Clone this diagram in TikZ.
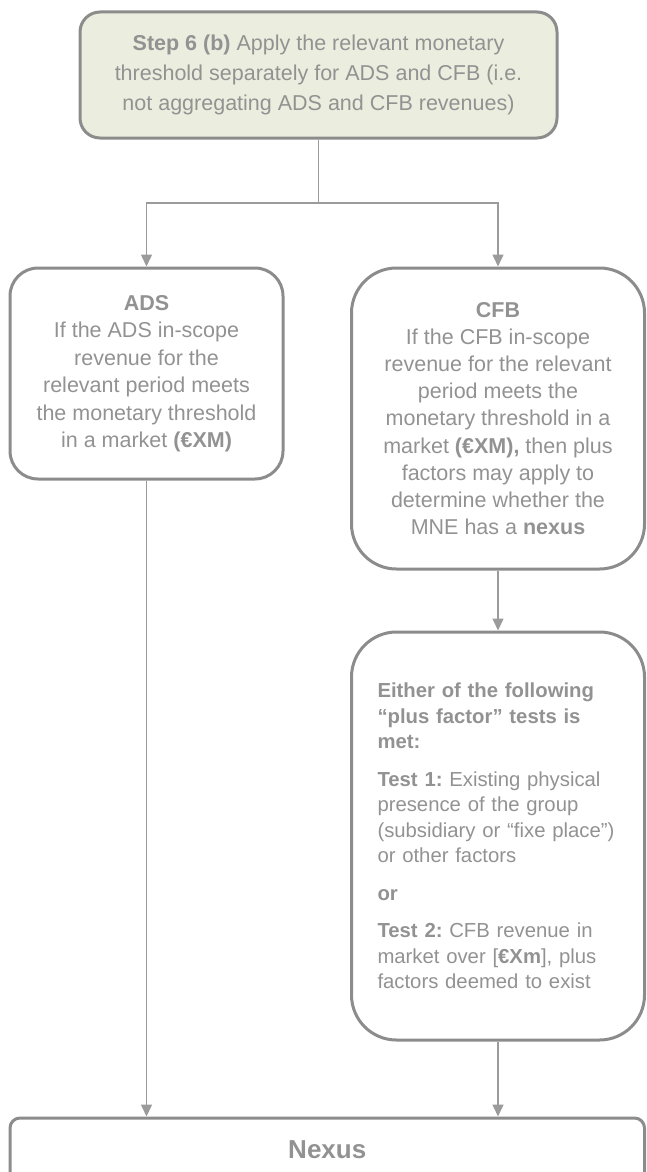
\documentclass[tikz,border=0pt]{standalone}
\usepackage{fontspec}
\setmainfont{Liberation Sans}
\usetikzlibrary{arrows.meta}
\definecolor{txtgray}{RGB}{146,146,146}
\definecolor{linegray}{RGB}{140,140,140}
\definecolor{conngray}{RGB}{155,155,155}
\definecolor{stepfill}{RGB}{235,238,222}
\frenchspacing
\begin{document}
\begin{tikzpicture}[x=1pt,y=-1pt,
  box/.style={draw=linegray, line width=3pt, text=txtgray, inner sep=0pt, align=center},
  conn/.style={draw=conngray, line width=1.5pt},
  arr/.style={conn, -{Triangle[length=12pt,width=11pt]}},
  bigtxt/.style={font=\fontsize{21.5}{#1}\selectfont}]
\useasboundingbox (0,0) rectangle (646,1172);
\clip (0,0) rectangle (646,1172);

\node[box, fill=stepfill, rounded corners=20pt, minimum width=477pt, minimum height=126pt, bigtxt=30] (step) at (318.5,75)
  {\textbf{Step 6 (b)} Apply the relevant monetary\\threshold separately for ADS and CFB (i.e.\\not aggregating ADS and CFB revenues)};

\node[box, rounded corners=28pt, minimum width=273pt, minimum height=211pt, bigtxt=27.5] (ads) at (146.5,373.5)
  {\textbf{ADS}\\If the ADS in-scope\\revenue for the\\relevant period meets\\the monetary threshold\\in a market \textbf{(€XM)}};

\node[box, rounded corners=45pt, minimum width=293pt, minimum height=301pt, bigtxt=27.2] (cfb) at (498,418.5)
  {\textbf{CFB}\\If the CFB in-scope\\revenue for the relevant\\period meets the\\monetary threshold in a\\market \textbf{(€XM),} then plus\\factors may apply to\\determine whether the\\MNE has a \textbf{nexus}};

\node[box, rounded corners=45pt, minimum width=293pt, minimum height=408pt, text width=241pt, align=left,
      font=\fontsize{20.3}{25.5}\selectfont] (test) at (498,836)
  {\textbf{Either of the following}\\\textbf{“plus factor” tests is}\\\textbf{met:}\\[12pt]
   \textbf{Test 1:} Existing physical\\presence of the group\\(subsidiary or “fixe place”)\\or other factors\\[12pt]
   \textbf{or}\\[12pt]
   \textbf{Test 2:} CFB revenue in\\market over [\textbf{€Xm}], plus\\factors deemed to exist};

\node[box, rounded corners=10pt, minimum width=634.5pt, minimum height=64pt, font=\bfseries\fontsize{26}{30}\selectfont] (nexus) at (327.25,1150) {Nexus};

\coordinate (split) at (318.5,203);
\draw[conn] (step.south) -- (split);
\draw[arr] (split) -| (ads.north);
\draw[arr] (split) -| (cfb.north);
\draw[arr] (cfb.south) -- (cfb.south |- test.north);
\draw[arr] (ads.south) -- (ads.south |- nexus.north);
\draw[arr] (test.south) -- (test.south |- nexus.north);
\end{tikzpicture}
\end{document}
